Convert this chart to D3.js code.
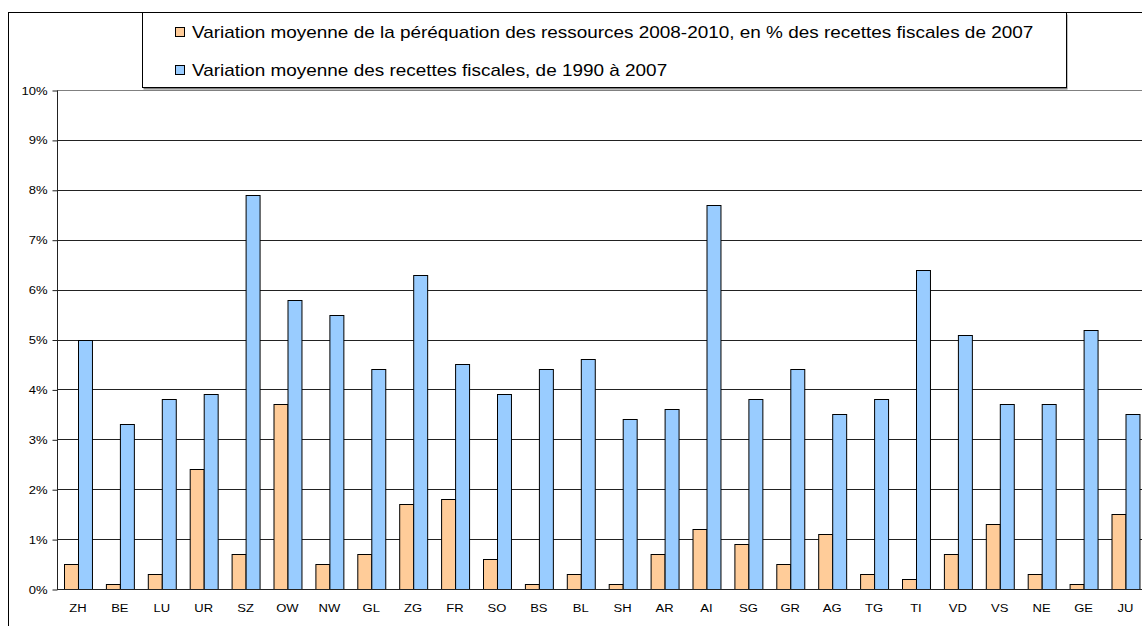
<!DOCTYPE html>
<html>
<head>
<meta charset="utf-8">
<script src="https://cdn.jsdelivr.net/npm/d3@7"></script>
<style>
  html, body { margin: 0; padding: 0; background: #fff; overflow: hidden; }
  svg { display: block; font-family: "Liberation Sans", Arial, sans-serif; }
</style>
</head>
<body>
<svg id="chart" width="1142" height="626"></svg>
<script>
const categories = ["ZH","BE","LU","UR","SZ","OW","NW","GL","ZG","FR","SO","BS","BL","SH","AR","AI","SG","GR","AG","TG","TI","VD","VS","NE","GE","JU"];
const perequation = [0.5,0.1,0.3,2.4,0.7,3.7,0.5,0.7,1.7,1.8,0.6,0.1,0.3,0.1,0.7,1.2,0.9,0.5,1.1,0.3,0.2,0.7,1.3,0.3,0.1,1.5];
const recettes = [5.0,3.3,3.8,3.9,7.9,5.8,5.5,4.4,6.3,4.5,3.9,4.4,4.6,3.4,3.6,7.7,3.8,4.4,3.5,3.8,6.4,5.1,3.7,3.7,5.2,3.5];
const seriesNames = [
  "Variation moyenne de la péréquation des ressources 2008-2010, en % des recettes fiscales de 2007",
  "Variation moyenne des recettes fiscales, de 1990 à 2007"
];
const seriesColors = ["#FFCC99", "#99CCFF"];
const yTicks = [0,1,2,3,4,5,6,7,8,9,10];

const svg = d3.select("#chart");
const W = 1142, H = 626;
const plot = { left: 57, top: 90, bottom: 589, step: 41.9 };
const STRETCH = 1.184;

// outer chart border
svg.append("rect").attr("x", 8.5).attr("y", 12.5).attr("width", W).attr("height", H)
  .attr("fill", "#fff").attr("stroke", "#000").attr("stroke-width", 1);

const x0 = d3.scaleBand().domain(categories)
  .range([plot.left, plot.left + plot.step * categories.length]).padding(0);
const x1 = d3.scaleBand().domain([0, 1]).range([0, x0.bandwidth()])
  .paddingInner(0).paddingOuter(0.5);
const y = d3.scaleLinear().domain([0, 10]).range([plot.bottom, plot.top]);

// gridlines
svg.append("g").selectAll("line").data(yTicks).join("line")
  .attr("x1", plot.left).attr("x2", W)
  .attr("y1", d => Math.round(y(d)) + 0.5).attr("y2", d => Math.round(y(d)) + 0.5)
  .attr("stroke", d => d === 10 ? "#808080" : "#222").attr("stroke-width", 1);

// y axis
const yAxis = d3.axisLeft(y).tickValues(yTicks).tickFormat(d => d + "%").tickSize(5).tickPadding(4);
const gy = svg.append("g").attr("transform", `translate(${plot.left + 0.5},0.5)`).call(yAxis);
gy.select(".domain").attr("stroke", "#222").attr("d", `M0,${y(10)}V${y(0)}`);
gy.selectAll(".tick line").attr("stroke", "#222");
gy.selectAll(".tick text").attr("font-size", 11).attr("fill", "#000")
  .attr("font-family", "Liberation Sans, Arial, sans-serif")
  .attr("x", 0).attr("transform", `translate(-10,0) scale(${STRETCH},1)`);

// bars
const data = categories.map((c, i) => ({ cat: c, vals: [perequation[i], recettes[i]] }));
const groups = svg.append("g").selectAll("g").data(data).join("g")
  .attr("transform", d => `translate(${x0(d.cat)},0)`);
groups.selectAll("rect").data(d => d.vals.map((v, k) => ({ v, k }))).join("rect")
  .attr("x", d => Math.round(x1(d.k)) + 0.5)
  .attr("y", d => Math.round(y(d.v)) + 0.5)
  .attr("width", x1.bandwidth())
  .attr("height", d => Math.round(y(0)) - Math.round(y(d.v)))
  .attr("fill", d => seriesColors[d.k])
  .attr("stroke", "#000").attr("stroke-width", 1);

// x axis baseline
svg.append("line").attr("x1", plot.left).attr("x2", W)
  .attr("y1", Math.round(y(0)) + 0.5).attr("y2", Math.round(y(0)) + 0.5)
  .attr("stroke", "#222");

// x labels
const xAxis = d3.axisBottom(x0).tickSize(0).tickPadding(0);
const gx = svg.append("g").attr("transform", `translate(0,${y(0)})`).call(xAxis);
gx.select(".domain").remove();
gx.selectAll(".tick text").attr("dy", null).attr("y", 0).attr("font-size", 11)
  .attr("transform", `translate(0,23) scale(${STRETCH},1)`)
  .attr("fill", "#000").attr("font-family", "Liberation Sans, Arial, sans-serif");

// legend
const lg = svg.append("g");
lg.append("rect").attr("x", 143.5).attr("y", 14.5).attr("width", 924).attr("height", 75).attr("fill", "#808080");
lg.append("rect").attr("x", 142.5).attr("y", 12.5).attr("width", 924).attr("height", 75)
  .attr("fill", "#fff").attr("stroke", "#000");
const rows = [32, 70];
seriesNames.forEach((name, i) => {
  lg.append("rect").attr("x", 175.5).attr("y", rows[i] - 4.5).attr("width", 9).attr("height", 9)
    .attr("fill", seriesColors[i]).attr("stroke", "#000");
  lg.append("text").attr("x", 0).attr("y", 0).attr("font-size", 16)
    .attr("transform", `translate(192,${rows[i] + 5.5}) scale(${STRETCH},1)`)
    .attr("fill", "#000").text(name);
});
</script>
</body>
</html>
